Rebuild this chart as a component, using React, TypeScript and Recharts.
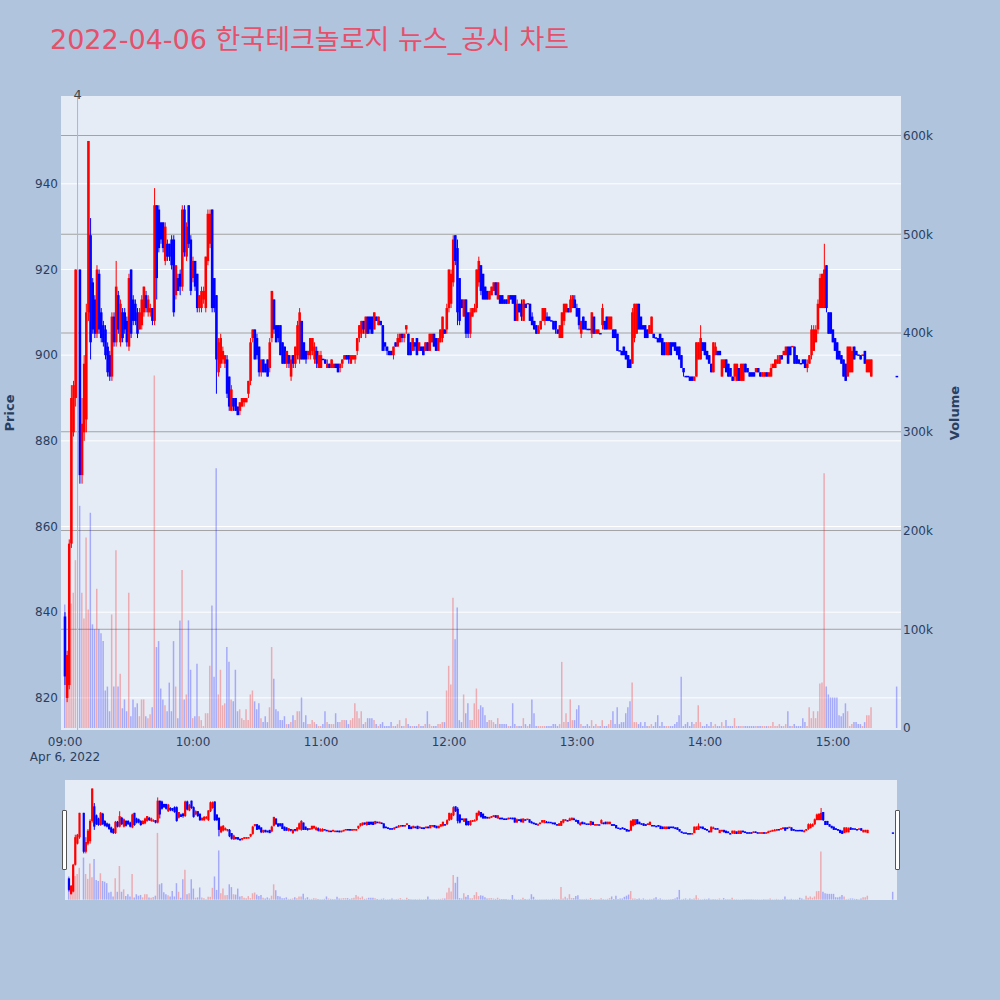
import React from "react";
import { ComposedChart, Bar, XAxis, YAxis, CartesianGrid, Cell, ReferenceLine } from "recharts";

// one entry per minute from 09:00 (index = minutes after the open); null = no trade
const opens = [
  839, 820, 823, 856, 882, 890, null, 920, 872, 882,
  885, 910, 928, 917, 913, 905, 919, 910, 907, 906,
  902, 900, 895, 909, 903, 914, 903, 910, 910, 908,
  902, 920, 913, 912, 910, 906, 907, 910, 914, 910,
  910, 911, 908, 935, 934, 931, 931, 922, 926, 926,
  927, 927, 914, 918, 919, 916, 934, 923, 935, 927,
  918, 922, 919, 911, 911, 913, 911, 922, 926, 934,
  918, 914, 896, 898, 899, 898, 899, 895, 887, 890,
  890, 888, 887, 888, 889, 889, 891, 894, 904, 906,
  904, 902, 896, 899, 898, 899, 897, 904, 913, 907,
  907, 907, 903, 902, 898, 900, 895, 900, 898, 900,
  899, 908, 903, 901, 900, 900, 901, 899, 901, 897,
  897, 899, 899, 897, 898, 897, 897, 898, 898, 897,
  898, 899, 900, 900, 898, 899, 899, 901, 904, 905,
  908, 905, 909, 909, 909, 906, 909, 907, 908, 907,
  903, 902, 901, 901, 900, 903, 902, 903, 905, 904,
  906, 905, 903, 901, 903, 904, 901, 902, 902, 901,
  903, 901, 903, 905, 904, 901, 903, 904, 906, 906,
  911, 912, 917, 928, 925, 918, 913, 909, 913, 910,
  905, 909, 910, 911, 917, 921, 919, 916, 915, 913,
  914, 915, 917, 913, 914, 914, 913, 913, 912, 914,
  914, 914, 908, 912, 912, 908, 912, 912, 912, 909,
  908, 907, 905, 906, 908, 908, 909, 909, 908, 908,
  908, 906, 904, 904, 908, 910, 911, 910, 911, 913,
  911, 911, 905, 909, 908, 906, 906, 905, 909, 905,
  905, 905, 907, 908, 909, 906, 906, 906, 906, 905,
  901, 901, 902, 901, 900, 899, 898, 904, 905, 912,
  909, 907, 907, 906, 905, 905, 905, 904, 904, 905,
  904, 903, 900, 900, 903, 903, 903, 902, 902, 900,
  897, 895, 895, 895, 895, 894, 895, 899, 899, 903,
  903, 901, 900, 898, 896, 900, 901, 901, 895, 897,
  899, 898, 897, 895, 895, 894, 897, 894, 894, 898,
  897, 896, 896, 896, 896, 897, 896, 895, 895, 896,
  895, 895, 897, 897, 898, 898, 900, 900, 900, 902,
  902, 902, 902, 900, 899, 898, 899, 899, 897, 898,
  900, 901, 903, 906, 911, 911, 911, 921, 910, 910,
  906, 904, 903, 901, 900, 899, 898, 895, 896, 896,
  902, 901, 900, 900, 900, 901, 896, 896, 895,
];

const highs = [
  840, 831, 857, 893, 894, 920, null, 920, 890, 900,
  912, 950, 932, 918, 914, 921, 920, 911, 908, 907,
  903, 901, 910, 910, 922, 915, 913, 911, 911, 909,
  919, 920, 914, 913, 911, 911, 914, 916, 915, 914,
  912, 911, 939, 935, 935, 931, 931, 931, 927, 926,
  928, 928, 921, 919, 920, 935, 935, 931, 935, 928,
  923, 922, 919, 914, 916, 916, 923, 934, 934, 934,
  918, 914, 904, 905, 902, 900, 900, 895, 893, 890,
  890, 888, 889, 890, 890, 890, 894, 904, 906, 906,
  905, 902, 899, 899, 898, 899, 904, 915, 913, 907,
  907, 907, 903, 902, 901, 900, 900, 900, 902, 908,
  911, 908, 903, 901, 901, 904, 904, 903, 902, 901,
  901, 899, 899, 899, 898, 899, 898, 898, 898, 898,
  899, 900, 900, 900, 900, 900, 900, 904, 907, 908,
  908, 909, 909, 909, 909, 910, 909, 909, 908, 907,
  903, 902, 901, 901, 902, 903, 905, 905, 905, 905,
  907, 905, 903, 904, 903, 904, 903, 902, 902, 903,
  903, 905, 905, 905, 904, 904, 906, 909, 906, 912,
  920, 920, 928, 928, 927, 918, 913, 913, 913, 910,
  911, 911, 912, 920, 923, 921, 919, 916, 915, 915,
  916, 917, 917, 917, 914, 914, 913, 913, 914, 914,
  914, 914, 913, 912, 913, 913, 912, 912, 912, 910,
  908, 907, 907, 908, 911, 911, 910, 909, 908, 908,
  908, 906, 907, 910, 912, 912, 911, 914, 914, 914,
  912, 911, 908, 909, 908, 906, 906, 910, 909, 906,
  906, 905, 912, 908, 909, 909, 909, 906, 906, 905,
  901, 901, 902, 901, 900, 899, 911, 912, 912, 912,
  909, 907, 907, 906, 907, 909, 905, 904, 904, 905,
  904, 903, 903, 903, 903, 903, 903, 902, 902, 900,
  897, 895, 895, 895, 895, 895, 903, 903, 907, 903,
  903, 901, 900, 898, 903, 903, 901, 901, 899, 899,
  899, 898, 897, 895, 898, 898, 897, 898, 898, 898,
  897, 896, 896, 896, 897, 897, 896, 896, 896, 896,
  896, 898, 898, 899, 900, 900, 900, 901, 902, 902,
  902, 902, 902, 900, 899, 898, 899, 899, 899, 900,
  907, 907, 907, 913, 919, 919, 926, 921, 910, 910,
  906, 904, 903, 901, 900, 899, 898, 902, 902, 902,
  902, 901, 900, 900, 900, 901, 899, 899, 899,
];

const lows = [
  823, 819, 822, 855, 881, 888, null, 870, 870, 880,
  882, 908, 899, 905, 904, 904, 905, 903, 902, 899,
  895, 894, 894, 902, 902, 905, 902, 903, 905, 902,
  901, 904, 907, 907, 904, 906, 906, 909, 910, 909,
  909, 907, 907, 913, 924, 926, 924, 921, 922, 922,
  920, 909, 913, 915, 914, 915, 923, 922, 925, 914,
  917, 915, 910, 910, 910, 912, 910, 921, 925, 910,
  910, 891, 895, 897, 898, 897, 890, 887, 887, 887,
  887, 886, 886, 888, 888, 889, 890, 893, 903, 899,
  899, 895, 895, 896, 896, 895, 896, 903, 905, 903,
  903, 900, 898, 898, 897, 897, 894, 897, 897, 899,
  898, 899, 899, 898, 899, 899, 900, 898, 897, 897,
  897, 899, 898, 897, 897, 897, 897, 897, 896, 896,
  897, 899, 899, 898, 898, 899, 898, 900, 903, 904,
  905, 904, 905, 905, 905, 906, 908, 907, 907, 901,
  901, 900, 900, 900, 899, 902, 902, 903, 903, 903,
  905, 900, 900, 901, 901, 900, 901, 901, 900, 901,
  901, 901, 903, 902, 901, 901, 903, 903, 905, 905,
  910, 911, 916, 921, 907, 907, 911, 909, 904, 904,
  904, 909, 910, 910, 916, 914, 913, 913, 913, 913,
  914, 915, 914, 913, 912, 912, 912, 912, 912, 913,
  912, 908, 908, 910, 908, 908, 911, 912, 908, 907,
  906, 905, 905, 906, 908, 907, 908, 908, 908, 906,
  905, 905, 904, 904, 907, 910, 910, 910, 911, 911,
  909, 906, 904, 906, 906, 906, 906, 904, 905, 905,
  905, 905, 906, 906, 906, 906, 906, 904, 904, 901,
  901, 900, 900, 899, 897, 897, 898, 903, 905, 906,
  906, 906, 904, 904, 905, 905, 904, 904, 903, 903,
  900, 900, 900, 900, 900, 902, 901, 900, 899, 897,
  895, 895, 895, 894, 894, 894, 895, 899, 899, 901,
  900, 899, 898, 896, 896, 900, 900, 900, 895, 897,
  896, 895, 895, 894, 894, 894, 894, 894, 894, 896,
  896, 895, 895, 895, 896, 896, 895, 895, 895, 895,
  895, 895, 897, 897, 898, 898, 899, 900, 900, 898,
  900, 902, 898, 898, 898, 898, 898, 897, 896, 898,
  899, 901, 903, 905, 911, 911, 911, 910, 905, 905,
  903, 901, 899, 899, 898, 895, 894, 895, 896, 896,
  899, 900, 900, 899, 900, 898, 896, 896, 895,
];

const closes = [
  825, 830, 856, 890, 893, 920, null, 872, 884, 898,
  910, 950, 903, 906, 905, 920, 906, 904, 903, 900,
  896, 895, 909, 903, 916, 906, 912, 904, 906, 903,
  918, 905, 908, 908, 905, 910, 913, 916, 911, 913,
  911, 908, 935, 918, 925, 927, 925, 930, 923, 923,
  921, 910, 921, 915, 916, 934, 924, 930, 926, 915,
  922, 916, 911, 914, 915, 915, 923, 933, 933, 911,
  911, 899, 903, 904, 901, 900, 891, 888, 892, 888,
  887, 886, 889, 890, 890, 890, 894, 903, 906, 899,
  900, 896, 899, 896, 896, 895, 903, 915, 906, 903,
  904, 900, 898, 898, 901, 898, 899, 898, 902, 907,
  910, 899, 899, 899, 901, 904, 904, 902, 898, 900,
  900, 899, 898, 898, 897, 899, 898, 897, 896, 898,
  899, 900, 899, 899, 900, 900, 900, 904, 907, 908,
  906, 909, 905, 906, 905, 910, 908, 909, 907, 901,
  902, 901, 900, 900, 902, 902, 904, 905, 904, 905,
  907, 900, 900, 904, 902, 900, 903, 901, 900, 903,
  901, 905, 905, 902, 901, 904, 906, 909, 905, 911,
  920, 919, 927, 922, 910, 908, 911, 913, 905, 905,
  910, 911, 911, 920, 922, 915, 913, 913, 913, 915,
  916, 917, 914, 917, 912, 912, 912, 912, 914, 913,
  912, 908, 912, 910, 909, 913, 911, 912, 908, 907,
  906, 905, 906, 908, 911, 911, 908, 908, 908, 906,
  906, 905, 907, 910, 912, 912, 910, 913, 914, 911,
  909, 907, 908, 906, 906, 906, 906, 910, 905, 906,
  906, 905, 911, 906, 906, 909, 909, 904, 904, 901,
  901, 900, 900, 899, 897, 897, 910, 912, 912, 906,
  906, 906, 904, 904, 907, 909, 904, 904, 903, 903,
  900, 900, 903, 903, 900, 902, 901, 900, 899, 897,
  896, 895, 895, 894, 894, 895, 903, 903, 904, 901,
  900, 899, 898, 896, 903, 902, 900, 900, 899, 899,
  896, 895, 895, 894, 898, 898, 894, 898, 898, 896,
  896, 895, 895, 895, 897, 896, 895, 896, 896, 895,
  896, 897, 898, 899, 899, 900, 899, 901, 902, 898,
  900, 902, 898, 898, 898, 898, 898, 897, 898, 900,
  906, 906, 906, 912, 918, 919, 920, 911, 905, 905,
  903, 901, 899, 899, 898, 895, 894, 902, 902, 901,
  899, 900, 900, 899, 900, 898, 899, 899, 899,
];

// thousands of shares
const volumes = [
  125, 60, 134, 126, 137, 170, null, 225, 137, 111,
  193, 120, 218, 105, 100, 141, 100, 96, 88, 38,
  42, 17, 115, 42, 180, 42, 55, 20, 29, 17,
  137, 12, 29, 21, 25, 12, 29, 29, 12, 10,
  14, 21, 357, 82, 88, 40, 29, 23, 17, 46,
  17, 88, 42, 10, 109, 160, 29, 34, 109, 59,
  10, 12, 65, 12, 8, 2, 15, 15, 63, 124,
  52, 263, 34, 59, 23, 25, 82, 67, 29, 27,
  59, 17, 19, 10, 8, 19, 8, 34, 38, 27,
  19, 25, 10, 6, 12, 6, 21, 82, 50, 19,
  17, 8, 8, 12, 4, 4, 6, 13, 8, 17,
  17, 31, 6, 13, 4, 4, 8, 6, 4, 2,
  2, 4, 17, 6, 4, 4, 4, 15, 6, 6,
  8, 8, 8, 4, 8, 10, 25, 17, 10, 17,
  4, 6, 10, 10, 10, 8, 4, 2, 4, 6,
  2, 2, 2, 6, 2, 2, 4, 8, 2, 2,
  10, 4, 2, 2, 2, 2, 4, 2, 2, 4,
  17, 4, 2, 2, 2, 4, 4, 6, 6, 38,
  63, 44, 132, 90, 122, 8, 6, 34, 15, 25,
  8, 8, 25, 40, 19, 23, 21, 13, 6, 8,
  8, 6, 4, 10, 4, 4, 4, 4, 2, 2,
  25, 4, 2, 2, 2, 10, 4, 2, 4, 29,
  15, 2, 2, 2, 2, 2, 2, 2, 2, 4,
  4, 2, 4, 67, 6, 15, 6, 29, 8, 8,
  19, 23, 4, 2, 2, 4, 2, 8, 2, 4,
  2, 2, 8, 2, 2, 4, 8, 17, 4, 21,
  4, 6, 6, 15, 21, 27, 46, 6, 6, 4,
  6, 2, 6, 2, 2, 4, 2, 6, 13, 2,
  6, 2, 2, 2, 2, 2, 4, 6, 13, 52,
  2, 4, 6, 2, 6, 4, 6, 23, 6, 2,
  2, 4, 2, 6, 2, 4, 2, 2, 6, 2,
  8, 2, 2, 2, 10, 2, 2, 2, 2, 2,
  2, 2, 2, 2, 2, 2, 2, 2, 2, 2,
  2, 2, 6, 2, 2, 4, 2, 2, 4, 17,
  2, 2, 4, 2, 2, 2, 10, 6, 2, 21,
  10, 17, 10, 17, 45, 46, 258, 42, 34, 31,
  31, 31, 31, 13, 12, 15, 25, 17, 2, 4,
  6, 6, 4, 4, 2, 6, 13, 13, 21,
];

// closing auction at 15:30
const auctionMinute = 390;
const auctionPrice = 895;
const auctionVolume = 42;

const timeTicks = [0, 60, 120, 180, 240, 300, 360];
const timeLabels = ["09:00", "10:00", "11:00", "12:00", "13:00", "14:00", "15:00"];
const dateLabel = "Apr 6, 2022";
const priceTicks = [820, 840, 860, 880, 900, 920, 940];
const volumeTicks = [0, 100, 200, 300, 400, 500, 600];
const volumeGrid = [100, 200, 300, 400, 500, 600];
const newsMinute = 5.86;
const newsLabel = "4";

const title = "2022-04-06 한국테크놀로지 뉴스_공시 차트";
const TEXT = "#2a3f5f";
const UP = "#ff0000";
const DOWN = "#0000ff";
const FONT = '"DejaVu Sans", "Noto Sans CJK KR", sans-serif';

const xDomain = [-1.9, 391.9];
const priceDomain = [812.5, 960.5];
const volDomain = [-2, 640];

type Row = { m: number; o: number; h: number; l: number; c: number; v: number; range: number[]; up: boolean };

const rows: Row[] = [];
{
  let prevClose: number | null = null;
  let prevUp = true;
  const push = (m: number, o: number, h: number, l: number, c: number, v: number) => {
    let up = prevUp;
    if (c > o) up = true;
    else if (c < o) up = false;
    else if (prevClose != null && c > prevClose) up = true;
    else if (prevClose != null && c < prevClose) up = false;
    rows.push({ m, o, h, l, c, v, range: [l, h], up });
    prevClose = c;
    prevUp = up;
  };
  opens.forEach((o, i) => {
    if (o == null) return;
    push(i, o, highs[i] as number, lows[i] as number, closes[i] as number, volumes[i] as number);
  });
  push(auctionMinute, auctionPrice, auctionPrice, auctionPrice, auctionPrice, auctionVolume);
}

function makeCandle(bodyW: number) {
  return function Candle(props: any) {
    const { x, y, width, height, payload } = props;
    if (x == null || y == null) return null;
    const color = payload.up ? UP : DOWN;
    const cx = x + width / 2;
    const span = payload.h - payload.l;
    const k = span > 0 ? height / span : 0;
    const yo = y + (payload.h - payload.o) * k;
    const yc = y + (payload.h - payload.c) * k;
    const top = Math.min(yo, yc);
    const bh = Math.max(Math.abs(yc - yo), 1.5);
    return (
      <g>
        {span > 0 && <line x1={cx} x2={cx} y1={y} y2={y + height} stroke={color} strokeWidth={1} />}
        <rect x={cx - bodyW / 2} y={span > 0 ? top : y - 0.75} width={bodyW} height={bh} fill={color} />
      </g>
    );
  };
}

const MainCandle = makeCandle(2.6);
const SliderCandle = makeCandle(2.2);

function TimeTick(props: any) {
  const { x, y, payload } = props;
  const idx = timeTicks.indexOf(payload.value);
  return (
    <g>
      <text x={x} y={y} dy="0.71em" textAnchor="middle" fill={TEXT} fontSize={12} fontFamily={FONT}>
        {timeLabels[idx]}
      </text>
      {idx === 0 && (
        <text x={x} y={y + 15.5} dy="0.71em" textAnchor="middle" fill={TEXT} fontSize={12} fontFamily={FONT}>
          {dateLabel}
        </text>
      )}
    </g>
  );
}

const volFill = (r: Row) => (r.up ? "rgba(255,0,0,0.28)" : "rgba(0,0,255,0.28)");

export default function App() {
  return (
    <div style={{ position: "absolute", left: 0, top: 0, width: 1000, height: 1000, background: "#b0c4de", fontFamily: FONT }}>
      <div style={{ position: "absolute", left: 50, top: 24, fontSize: 27, lineHeight: "32px", color: "#e6506a", whiteSpace: "nowrap" }}>
        {title}
      </div>

      <div style={{ position: "absolute", left: 0, top: 0 }}>
        <ComposedChart width={1000} height={770} data={rows} margin={{ top: 96, right: 49, bottom: 6, left: 21 }}>
          <CartesianGrid yAxisId="price" xAxisId="p" vertical={false} horizontalValues={priceTicks} stroke="#ffffff" fill="#e5ecf6" />
          <CartesianGrid yAxisId="vol" xAxisId="p" vertical={false} horizontalValues={volumeGrid} stroke="#a3a3a3" />
          <XAxis
            xAxisId="p"
            dataKey="m"
            type="number"
            domain={xDomain}
            ticks={timeTicks}
            axisLine={false}
            tickLine={false}
            tickSize={0}
            tickMargin={7}
            height={34}
            tick={<TimeTick />}
          />
          <XAxis xAxisId="v" dataKey="m" type="number" domain={xDomain} hide />
          <YAxis
            yAxisId="price"
            orientation="left"
            type="number"
            domain={priceDomain}
            ticks={priceTicks}
            width={40}
            axisLine={false}
            tickLine={false}
            tickSize={0}
            tickMargin={3}
            tick={{ fill: TEXT, fontSize: 12, fontFamily: FONT }}
          />
          <YAxis
            yAxisId="vol"
            orientation="right"
            type="number"
            domain={volDomain}
            ticks={volumeTicks}
            width={50}
            axisLine={false}
            tickLine={false}
            tickSize={0}
            tickMargin={2}
            tickFormatter={(v: number) => (v === 0 ? "0" : `${v}k`)}
            tick={{ fill: TEXT, fontSize: 12, fontFamily: FONT, textAnchor: "start" }}
          />
          <Bar xAxisId="v" yAxisId="vol" dataKey="v" barSize={1.5} isAnimationActive={false}>
            {rows.map((r) => (
              <Cell key={r.m} fill={volFill(r)} />
            ))}
          </Bar>
          <ReferenceLine
            xAxisId="p"
            yAxisId="price"
            x={newsMinute}
            stroke="#a8b2f2"
            strokeWidth={1}
            label={{ value: newsLabel, position: "top", offset: -3, fill: "#444", fontSize: 13, fontFamily: FONT }}
          />
          <Bar xAxisId="p" yAxisId="price" dataKey="range" barSize={2} shape={<MainCandle />} isAnimationActive={false} />
        </ComposedChart>
      </div>

      <svg style={{ position: "absolute", left: 0, top: 0, pointerEvents: "none" }} width={1000} height={1000}>
        <text x={14} y={413} transform="rotate(-90 14 413)" textAnchor="middle" fill={TEXT} fontSize={13} fontWeight="bold" fontFamily={FONT}>
          Price
        </text>
        <text x={959} y={413} transform="rotate(-90 959 413)" textAnchor="middle" fill={TEXT} fontSize={13} fontWeight="bold" fontFamily={FONT}>
          Volume
        </text>
      </svg>

      <div style={{ position: "absolute", left: 65, top: 780, width: 832, height: 120, background: "#e5ecf6" }} />
      <div style={{ position: "absolute", left: 0, top: 780 }}>
        <ComposedChart width={1000} height={120} data={rows} margin={{ top: 0, right: 103, bottom: 0, left: 65 }}>
          <XAxis xAxisId="p" dataKey="m" type="number" domain={xDomain} hide />
          <XAxis xAxisId="v" dataKey="m" type="number" domain={xDomain} hide />
          <YAxis yAxisId="price" type="number" domain={priceDomain} hide />
          <YAxis yAxisId="vol" type="number" domain={volDomain} hide />
          <Bar xAxisId="v" yAxisId="vol" dataKey="v" barSize={1.5} isAnimationActive={false}>
            {rows.map((r) => (
              <Cell key={r.m} fill={volFill(r)} />
            ))}
          </Bar>
          <Bar xAxisId="p" yAxisId="price" dataKey="range" barSize={2} shape={<SliderCandle />} isAnimationActive={false} />
        </ComposedChart>
      </div>
      <div style={{ position: "absolute", left: 62, top: 810, width: 3, height: 58, background: "#fff", border: "1px solid #555", borderRadius: 1 }} />
      <div style={{ position: "absolute", left: 895, top: 810, width: 3, height: 58, background: "#fff", border: "1px solid #555", borderRadius: 1 }} />
    </div>
  );
}
